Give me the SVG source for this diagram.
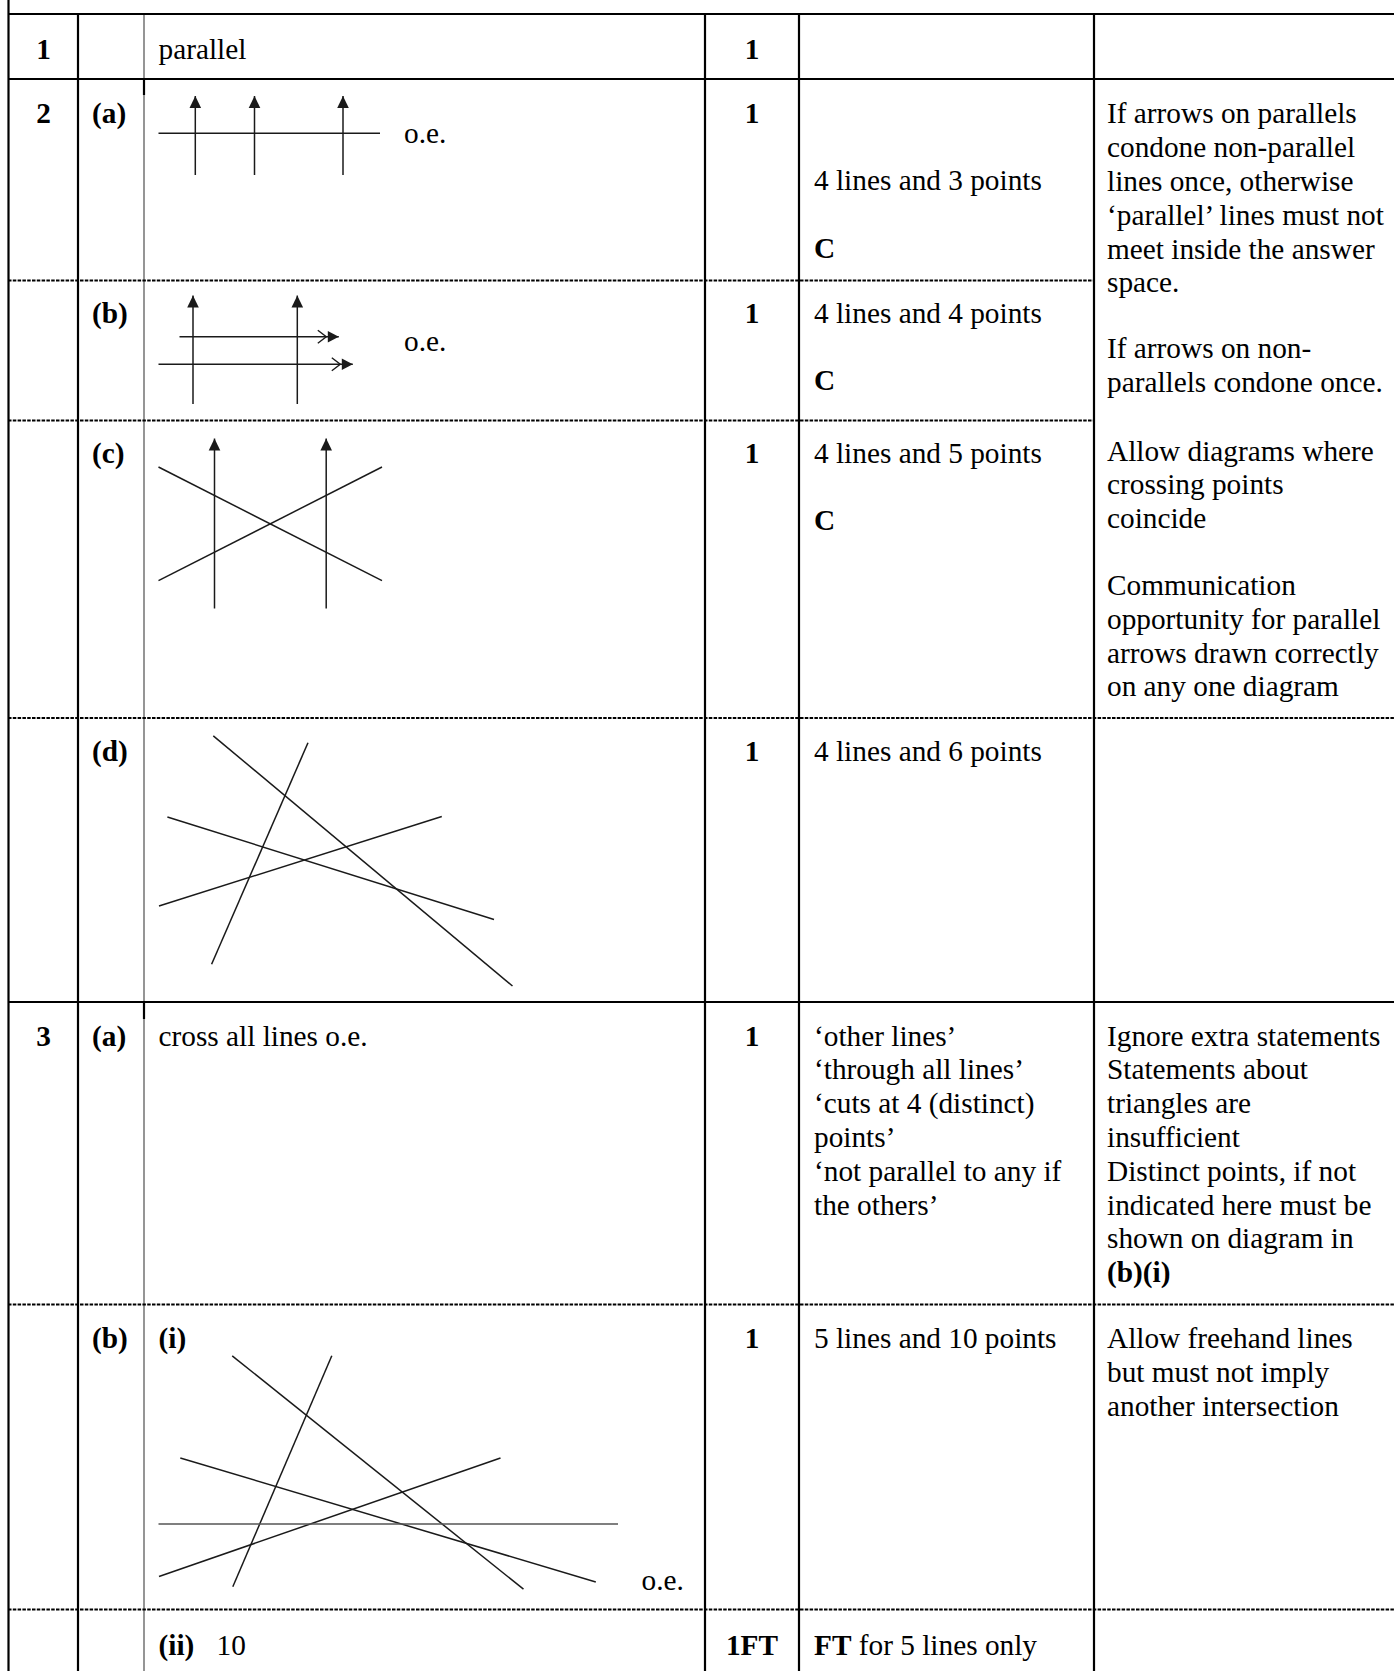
<svg xmlns="http://www.w3.org/2000/svg" width="1394" height="1671" viewBox="0 0 1394 1671">
<style>
text{font-family:"Liberation Serif","Times New Roman",serif;font-size:29.3px;fill:#000}
.b{font-weight:bold}
.c{text-anchor:middle}
.grid{stroke:#000;stroke-width:2.2;fill:none}
.dash{stroke:#000;stroke-width:2.2;stroke-dasharray:3.5 1.3;fill:none}
.gray{stroke:#8a8a8a;stroke-width:1.8;fill:none}
.ln{stroke:#1a1a1a;stroke-width:1.5;fill:none}
.arr{stroke:#1a1a1a;stroke-width:1.5;fill:none;marker-end:url(#tri)}
.arr2{stroke:#1a1a1a;stroke-width:1.5;fill:none;marker-end:url(#dbl)}
</style>
<defs>
<marker id="tri" viewBox="-13 -7 13 14" refX="0" refY="0" markerWidth="13" markerHeight="14" markerUnits="userSpaceOnUse" orient="auto">
<path d="M-12,-5.8 L0,0 L-12,5.8 z" fill="#1a1a1a"/>
</marker>
<marker id="dbl" viewBox="-23 -7.5 23 15" refX="0" refY="0" markerWidth="23" markerHeight="15" markerUnits="userSpaceOnUse" orient="auto">
<path d="M-11,-5.8 L0,0 L-11,5.8 z" fill="#1a1a1a"/>
<path d="M-21,-6.5 L-12.5,0 L-21,6.5" stroke="#1a1a1a" stroke-width="1.4" fill="none"/>
</marker>
</defs>

<g id="grid">
<line class="grid" x1="8.5" y1="0" x2="8.5" y2="1671"/>
<line class="grid" x1="78" y1="14" x2="78" y2="1671"/>
<line class="gray" x1="144" y1="14" x2="144" y2="1671"/>
<line class="grid" x1="144" y1="79" x2="144" y2="95"/>
<line class="grid" x1="144" y1="1002" x2="144" y2="1019"/>
<line class="grid" x1="705" y1="14" x2="705" y2="1671"/>
<line class="grid" x1="799" y1="14" x2="799" y2="1671"/>
<line class="grid" x1="1094" y1="14" x2="1094" y2="1671"/>
<line class="grid" x1="8" y1="14" x2="1394" y2="14"/>
<line class="grid" x1="8" y1="79" x2="1394" y2="79"/>
<line class="dash" x1="8" y1="280.5" x2="1094" y2="280.5"/>
<line class="dash" x1="8" y1="420.5" x2="1094" y2="420.5"/>
<line class="dash" x1="8" y1="718" x2="1394" y2="718"/>
<line class="grid" x1="8" y1="1002" x2="1394" y2="1002"/>
<line class="dash" x1="8" y1="1304.5" x2="1394" y2="1304.5"/>
<line class="dash" x1="8" y1="1609.5" x2="1394" y2="1609.5"/>
</g>

<g id="row-1">
<text class="b c" x="43.5" y="59">1</text>
<text x="158.5" y="59">parallel</text>
<text class="b c" x="752" y="59">1</text>
</g>

<g id="row-2a">
<text class="b c" x="43.5" y="123">2</text>
<text class="b" x="92" y="123">(a)</text>
<line class="ln" x1="158.5" y1="133.3" x2="380" y2="133.3"/>
<line class="arr" x1="195.3" y1="175" x2="195.3" y2="96"/>
<line class="arr" x1="254.5" y1="175" x2="254.5" y2="96"/>
<line class="arr" x1="343" y1="175" x2="343" y2="96"/>
<text x="404" y="143">o.e.</text>
<text class="b c" x="752" y="123">1</text>
<text x="814" y="190">4 lines and 3 points</text>
<text class="b" x="814" y="258">C</text>
</g>

<g id="notes-2">
<text x="1107" y="123.3">If arrows on parallels</text>
<text x="1107" y="157.1">condone non-parallel</text>
<text x="1107" y="190.9">lines once, otherwise</text>
<text x="1107" y="224.7">‘parallel’ lines must not</text>
<text x="1107" y="258.5">meet inside the answer</text>
<text x="1107" y="292.3">space.</text>
<text x="1107" y="358.3">If arrows on non-</text>
<text x="1107" y="392">parallels condone once.</text>
<text x="1107" y="460.5">Allow diagrams where</text>
<text x="1107" y="494.3">crossing points</text>
<text x="1107" y="528">coincide</text>
<text x="1107" y="595">Communication</text>
<text x="1107" y="628.8">opportunity for parallel</text>
<text x="1107" y="662.6">arrows drawn correctly</text>
<text x="1107" y="696.4">on any one diagram</text>
</g>

<g id="row-2b">
<text class="b" x="92" y="323">(b)</text>
<line class="arr" x1="193" y1="404" x2="193" y2="295.5"/>
<line class="arr" x1="297.3" y1="404" x2="297.3" y2="295.5"/>
<line class="arr2" x1="179.5" y1="336.8" x2="338.8" y2="336.8"/>
<line class="arr2" x1="158.5" y1="364.2" x2="352.8" y2="364.2"/>
<text x="404" y="351">o.e.</text>
<text class="b c" x="752" y="323">1</text>
<text x="814" y="323">4 lines and 4 points</text>
<text class="b" x="814" y="390">C</text>
</g>

<g id="row-2c">
<text class="b" x="92" y="463">(c)</text>
<line class="ln" x1="158.5" y1="467" x2="382" y2="580.7"/>
<line class="ln" x1="158.5" y1="580.7" x2="382" y2="467"/>
<line class="arr" x1="214.5" y1="608.5" x2="214.5" y2="438.5"/>
<line class="arr" x1="326.2" y1="608.5" x2="326.2" y2="438.5"/>
<text class="b c" x="752" y="463">1</text>
<text x="814" y="463">4 lines and 5 points</text>
<text class="b" x="814" y="530">C</text>
</g>

<g id="row-2d">
<text class="b" x="92" y="761">(d)</text>
<line class="ln" x1="213.3" y1="735.8" x2="512.5" y2="986"/>
<line class="ln" x1="308" y1="742.7" x2="211.6" y2="964.3"/>
<line class="ln" x1="167.4" y1="817" x2="494" y2="919.5"/>
<line class="ln" x1="159" y1="906" x2="441.8" y2="816.5"/>
<text class="b c" x="752" y="761">1</text>
<text x="814" y="761">4 lines and 6 points</text>
</g>

<g id="row-3a">
<text class="b c" x="43.5" y="1046">3</text>
<text class="b" x="92" y="1046">(a)</text>
<text x="158.5" y="1046">cross all lines o.e.</text>
<text class="b c" x="752" y="1046">1</text>
<text x="814" y="1045.5">‘other lines’</text>
<text x="814" y="1079.3">‘through all lines’</text>
<text x="814" y="1113.1">‘cuts at 4 (distinct)</text>
<text x="814" y="1146.9">points’</text>
<text x="814" y="1180.7">‘not parallel to any if</text>
<text x="814" y="1214.5">the others’</text>
<text x="1107" y="1045.5">Ignore extra statements</text>
<text x="1107" y="1079.3">Statements about</text>
<text x="1107" y="1113.1">triangles are</text>
<text x="1107" y="1146.9">insufficient</text>
<text x="1107" y="1180.7">Distinct points, if not</text>
<text x="1107" y="1214.5">indicated here must be</text>
<text x="1107" y="1248.3">shown on diagram in</text>
<text class="b" x="1107" y="1282.1">(b)(i)</text>
</g>

<g id="row-3bi">
<text class="b" x="92" y="1348">(b)</text>
<text class="b" x="158.5" y="1348">(i)</text>
<line class="ln" x1="232.2" y1="1355.8" x2="523.5" y2="1589.2"/>
<line class="ln" x1="331.8" y1="1355.8" x2="232.8" y2="1586.8"/>
<line class="ln" x1="180.3" y1="1458" x2="595.8" y2="1582"/>
<line class="ln" x1="159" y1="1576.5" x2="500.5" y2="1458"/>
<line x1="158.5" y1="1524" x2="618" y2="1524" stroke="#555" stroke-width="1.7"/>
<text x="641.5" y="1590">o.e.</text>
<text class="b c" x="752" y="1348">1</text>
<text x="814" y="1348">5 lines and 10 points</text>
<text x="1107" y="1348">Allow freehand lines</text>
<text x="1107" y="1381.8">but must not imply</text>
<text x="1107" y="1415.6">another intersection</text>
</g>

<g id="row-3bii">
<text class="b" x="158.5" y="1655">(ii)</text>
<text x="216.5" y="1655">10</text>
<text class="b c" x="752" y="1655">1FT</text>
<text x="814" y="1655"><tspan class="b">FT</tspan> for 5 lines only</text>
</g>
</svg>
